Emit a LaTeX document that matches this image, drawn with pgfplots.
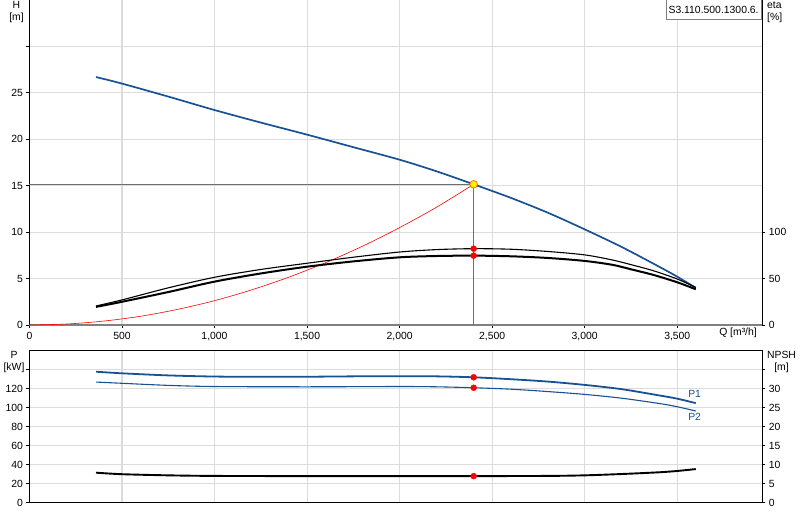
\documentclass[border=0pt]{standalone}
\usepackage{fontspec}
\setmainfont{Liberation Sans}
\usepackage{pgfplots}
\pgfplotsset{compat=1.18}

\definecolor{hblue}{RGB}{24,82,148}
\definecolor{gridc}{RGB}{220,220,220}
\definecolor{axgray}{RGB}{128,128,128}
\definecolor{opgray}{RGB}{110,110,110}

\newcommand{\lab}{\fontsize{10.4}{12}\selectfont}

\pgfplotsset{
  base/.style={
    scale only axis, width=733pt,
    xmin=0, xmax=3960,
    tick align=outside, major tick length=3pt,
    tick style={black, line width=0.8pt},
    ticklabel style={font=\lab},
    /pgf/number format/assume math mode=true,
    /pgf/number format/1000 sep={,},
    clip=false,
  },
  grd/.style={grid=major, grid style={gridc, line width=1.1pt}},
}

\begin{document}
\begin{tikzpicture}
\useasboundingbox (0,0) rectangle (800pt,520pt);

% ---------- top panel: head (left) ----------
\begin{axis}[base, grd,
    at={(29.4pt,195pt)}, anchor=south west, height=325pt,
    ymin=0, ymax=35,
    ytick={0,5,...,30}, yticklabels={0,5,10,15,20,25,{}},
    xtick={0,500,...,3500},
    axis x line*=bottom, axis y line*=left,
    x axis line style={axgray, line width=1.6pt, -},
    y axis line style={black, line width=1.3pt, -},
    xticklabel style={yshift=-1pt},
  ]
  % system curve
  \addplot[red, line width=0.6pt, smooth] coordinates {
    (0,0) (200,0.105) (400,0.42) (600,0.94) (800,1.68) (1000,2.62)
    (1200,3.78) (1400,5.14) (1600,6.71) (1800,8.49) (2000,10.49)
    (2200,12.69) (2400,15.15)};
  % duty point guide lines
  \addplot[opgray, line width=0.9pt] coordinates {(0,15.15) (2400,15.15) (2400,0)};
  % H curve
  \addplot[hblue, line width=1.7pt, smooth] coordinates {
    (360,26.7) (500,26.0) (750,24.6) (1000,23.15) (1250,21.8) (1500,20.5)
    (1750,19.15) (2000,17.8) (2200,16.55) (2400,15.15) (2600,13.7)
    (2800,12.1) (3000,10.3) (3200,8.4) (3400,6.3) (3500,5.2) (3600,4.0)};
  \addplot[only marks, mark=*, mark size=3.8pt, mark options={fill=yellow, draw=orange!90!red, line width=0.8pt}]
    coordinates {(2400,15.15)};
\end{axis}

% ---------- top panel: efficiency (right) ----------
\begin{axis}[base,
    at={(29.4pt,195pt)}, anchor=south west, height=325pt,
    ymin=0, ymax=350, ytick={0,50,100},
    xtick=\empty,
    axis x line=none, axis y line*=right,
    y axis line style={black, line width=1.3pt, -},
  ]
  \addplot[black, line width=1.1pt, smooth] coordinates {
    (360,20.5) (500,27) (750,40) (1000,51.4) (1250,59.8) (1500,66.5)
    (1750,73) (2000,78.6) (2200,81.2) (2400,82.2) (2600,81.6) (2800,79.2)
    (3000,75.5) (3150,70) (3250,65) (3370,58.5) (3500,49.5) (3600,40.5)};
  \addplot[black, line width=2pt, smooth] coordinates {
    (360,19.5) (500,25) (750,35.5) (1000,46.7) (1250,55.5) (1500,62.8)
    (1750,68.5) (2000,72.9) (2200,74.3) (2400,74.7) (2600,74) (2800,72.2)
    (3000,69) (3150,64.8) (3250,60) (3370,54) (3500,46) (3600,38.5)};
  \addplot[only marks, mark=*, mark size=3pt, red] coordinates {(2400,82.2) (2400,74.7)};
\end{axis}

% ---------- bottom panel: power (left) ----------
\begin{axis}[base, grd,
    at={(29.4pt,17.3pt)}, anchor=south west, height=152pt,
    ymin=0, ymax=160,
    ytick={0,20,...,140}, yticklabels={0,20,40,60,80,100,120,{}},
    ytick pos=left,
    xtick={0,500,...,3500}, xticklabels={}, xtick pos=bottom,
    major x tick style={draw=none},
    x axis line style={axgray, line width=1.6pt},
    y axis line style={black, line width=1.3pt},
  ]
  \addplot[hblue, line width=1.8pt, smooth] coordinates {
    (360,137.9) (500,136.2) (750,134) (1000,132.8) (1250,132.5) (1500,132.6)
    (1750,133) (2000,133.2) (2200,133) (2400,132) (2600,130) (2800,127.5)
    (3000,124) (3200,119.5) (3400,113) (3500,109.5) (3600,104.8)};
  \addplot[hblue, line width=1.1pt, smooth] coordinates {
    (360,127) (500,125.7) (750,123.5) (1000,122.3) (1500,122) (2000,122.3)
    (2200,122) (2400,121) (2600,119.5) (2800,117) (3000,114) (3200,110)
    (3400,104.5) (3500,101) (3600,96.5)};
  \addplot[only marks, mark=*, mark size=3pt, red] coordinates {(2400,132) (2400,121)};
  \node[hblue, font=\lab, anchor=center] at (axis cs:3594,114.4) {P1};
  \node[hblue, font=\lab, anchor=center] at (axis cs:3594,90.2) {P2};
\end{axis}

% ---------- bottom panel: NPSH (right) ----------
\begin{axis}[base,
    at={(29.4pt,17.3pt)}, anchor=south west, height=152pt,
    ymin=0, ymax=40,
    ytick={0,5,...,35}, yticklabels={0,5,10,15,20,25,30,{}},
    xtick=\empty,
    axis x line=none, axis y line*=right,
    y axis line style={black, line width=1.3pt, -},
  ]
  \addplot[black, line width=1.9pt, smooth] coordinates {
    (360,7.9) (500,7.5) (750,7.2) (1000,7.05) (1500,7.0) (2000,7.0)
    (2400,7.0) (2800,7.05) (3000,7.2) (3200,7.55) (3400,8.0) (3500,8.35)
    (3600,8.85)};
  \addplot[only marks, mark=*, mark size=3pt, red] coordinates {(2400,7.0)};
\end{axis}

% ---------- labels ----------
\node[font=\lab, align=center, anchor=north, inner sep=0pt] at (16.5pt,518.5pt) {H\\[0pt][m]};
\node[font=\lab, align=left, anchor=north west, inner sep=0pt] at (767pt,518.5pt) {eta\\[0pt][\%]};
\node[font=\lab, align=center, anchor=north, inner sep=0pt] at (14pt,168.5pt) {P\\[0pt][kW]};
\node[font=\lab, align=center, anchor=north, inner sep=0pt] at (781.5pt,168.5pt) {NPSH\\[0pt][m]};
\node[font=\lab, anchor=east, inner sep=0pt] at (757pt,187pt) {Q [m³/h]};
\node[font=\lab, draw=axgray, fill=white, line width=0.8pt, anchor=north east,
      minimum height=19.5pt, inner xsep=2.5pt] at (761.5pt,520.5pt) {S3.110.500.1300.6.};
\end{tikzpicture}
\end{document}
